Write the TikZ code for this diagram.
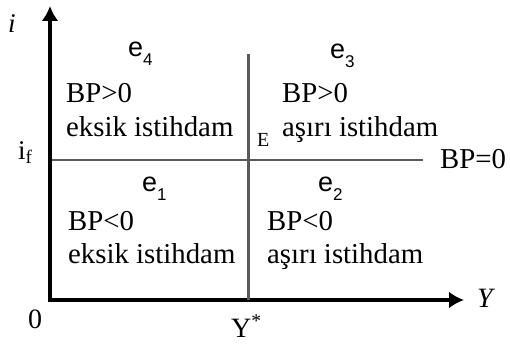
\documentclass[tikz,border=0pt]{standalone}
\usepackage{fontspec}
\setmainfont{Liberation Serif}
\newfontfamily\regfont{Liberation Sans}
\usetikzlibrary{arrows.meta}

\tikzset{
  axis/.style={line width=4.5pt,-{Latex[length=15pt,width=17pt]}},
  guide/.style={line width=2.2pt,black!65},
  txt/.style={anchor=base west,inner sep=0pt,font=\fontsize{28.8}{30}\selectfont},
}
\newcommand{\regname}[1]{{\regfont\fontsize{27}{30}\selectfont e\raisebox{-9pt}{\fontsize{17}{17}\selectfont #1}}}

\begin{document}
\begin{tikzpicture}[x=1pt,y=-1pt]
  \useasboundingbox (0,0) rectangle (510,344);
  % axes
  \coordinate (O) at (50,300);
  \coordinate (Ocorner) at (47.8,300);
  \coordinate (itop) at (50,6);
  \coordinate (yend) at (464,300);
  \draw[axis] (O) -- (itop);
  \draw[axis] (Ocorner) -- (yend);
  % equilibrium lines
  \coordinate (ystar) at (248.5,300);
  \coordinate (ystartop) at (248.5,54);
  \coordinate (if) at (52,160);
  \coordinate (bpend) at (423,160);
  \draw[guide] (ystartop) -- (ystar);
  \draw[guide] (if) -- (bpend);

  % axis labels
  \node[txt,font=\fontsize{27}{30}\itshape] (ilab) at (8,33) {i};
  \node[txt,font=\fontsize{28}{30}\itshape] (ylab) at (477,307) {Y};
  \node[txt,font=\fontsize{28}{30}\selectfont] (zero) at (28,328) {0};
  \node[txt,font=\fontsize{28}{30}\selectfont] (ystarlab) at (231,337) {Y\textsuperscript{*}};
  \node[txt,font=\fontsize{27}{30}\selectfont] (iflab) at (18,160) {i\raisebox{-4pt}{\fontsize{19}{19}\selectfont f}};
  \node[txt,font=\fontsize{20}{20}\selectfont] (elab) at (257,147) {E};
  \node[txt] (bpzero) at (440,169) {BP=0};

  % regions
  \node[txt] (e4) at (128,57) {\regname{4}};
  \node[txt] (bp4) at (66,103) {BP>0};
  \node[txt] (st4) at (66,137) {eksik istihdam};

  \node[txt] (e3) at (330,59) {\regname{3}};
  \node[txt] (bp3) at (282,103) {BP>0};
  \node[txt] (st3) at (282,137) {aşırı istihdam};

  \node[txt] (e1) at (142,192) {\regname{1}};
  \node[txt] (bp1) at (68,230) {BP<0};
  \node[txt] (st1) at (68,263) {eksik istihdam};

  \node[txt] (e2) at (318,192) {\regname{2}};
  \node[txt] (bp2) at (267,230) {BP<0};
  \node[txt] (st2) at (267,263) {aşırı istihdam};
\end{tikzpicture}
\end{document}
